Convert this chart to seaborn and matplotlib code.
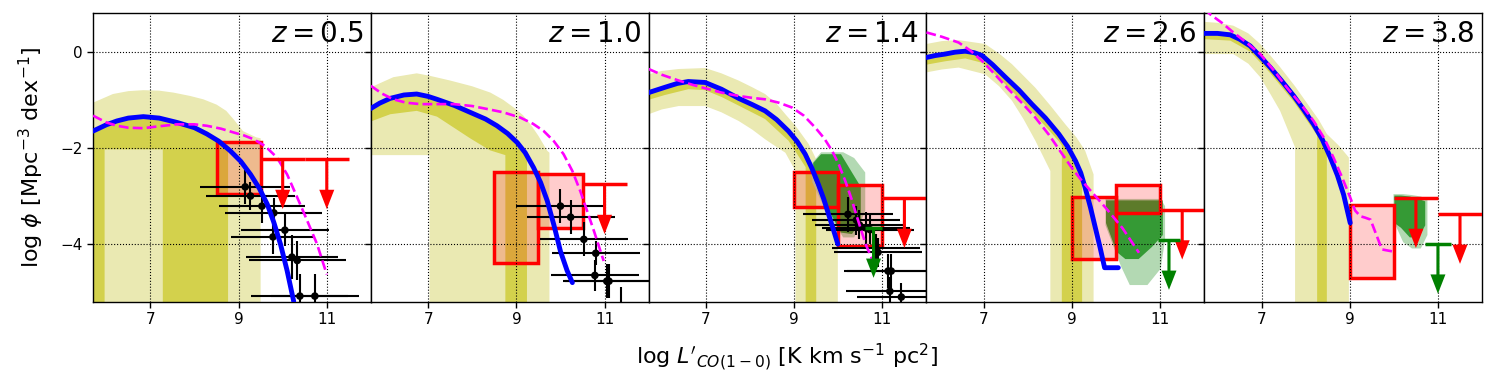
import numpy as np
import matplotlib
matplotlib.use("Agg")
import matplotlib.pyplot as plt
import seaborn as sns

# ---------------- data ----------------
REDSHIFTS = ["0.5", "1.0", "1.4", "2.6", "3.8"]
FLOOR = -9.0  # no lower bound (band extends below the axis)

# model (blue) luminosity functions
BLUE_X = [
    [5.7, 6.0, 6.24, 6.5, 6.84, 7.2, 7.6, 8.0, 8.28, 8.55, 8.81, 9.05, 9.27, 9.47,
     9.65, 9.8, 9.95, 10.1, 10.25],
    [5.7, 5.9, 6.14, 6.45, 6.74, 7.0, 7.2, 7.6, 7.95, 8.3, 8.56, 8.8, 9.02, 9.2,
     9.39, 9.55, 9.7, 9.85, 10.0, 10.15, 10.27],
    [5.7, 6.07, 6.35, 6.6, 6.98, 7.35, 7.74, 8.05, 8.34, 8.6, 8.87, 9.07, 9.25, 9.4,
     9.55, 9.67, 9.78, 9.89, 9.99],
    [5.7, 5.9, 6.12, 6.35, 6.58, 6.78, 6.96, 7.2, 7.49, 7.8, 8.09, 8.4, 8.7, 8.9,
     9.08, 9.2, 9.3, 9.42, 9.53, 9.64, 9.74, 10.05],
    [5.7, 6.0, 6.29, 6.5, 6.74, 6.97, 7.2, 7.45, 7.73, 7.95, 8.18, 8.38, 8.56, 8.72,
     8.86, 9.01],
]
BLUE_Y = [
    [-1.65, -1.52, -1.44, -1.38, -1.35, -1.38, -1.47, -1.58, -1.71, -1.86, -2.06,
     -2.28, -2.55, -2.84, -3.17, -3.55, -4.0, -4.55, -5.19],
    [-1.18, -1.07, -0.97, -0.9, -0.88, -0.93, -0.99, -1.12, -1.26, -1.4, -1.54,
     -1.7, -1.89, -2.1, -2.41, -2.72, -3.1, -3.6, -4.15, -4.55, -4.8],
    [-0.85, -0.74, -0.66, -0.62, -0.64, -0.78, -0.97, -1.1, -1.23, -1.41, -1.65,
     -1.87, -2.13, -2.42, -2.76, -3.06, -3.38, -3.7, -4.0],
    [-0.12, -0.08, -0.05, -0.01, 0.01, -0.02, -0.08, -0.27, -0.53, -0.8, -1.09,
     -1.38, -1.71, -1.97, -2.27, -2.52, -2.83, -3.24, -3.66, -4.08, -4.49, -4.49],
    [0.38, 0.38, 0.35, 0.26, 0.12, -0.1, -0.33, -0.6, -0.92, -1.2, -1.51, -1.83,
     -2.2, -2.57, -2.97, -3.56],
]

# comparison model (magenta dashed)
MAG_X = [
    [5.7, 6.0, 6.24, 6.5, 6.84, 7.2, 7.6, 8.0, 8.28, 8.6, 8.89, 9.12, 9.34, 9.6,
     9.87, 10.1, 10.33, 10.55, 10.78, 11.0],
    [5.7, 5.95, 6.21, 6.5, 6.82, 7.2, 7.58, 8.0, 8.33, 8.7, 9.09, 9.38, 9.62, 9.85,
     10.07, 10.27, 10.45, 10.6, 10.76, 10.98],
    [5.7, 6.0, 6.38, 6.7, 6.98, 7.35, 7.74, 8.05, 8.34, 8.65, 8.95, 9.22, 9.48, 9.68,
     9.86, 10.02, 10.16, 10.3, 10.43, 10.62, 10.77],
    [5.7, 6.05, 6.43, 6.7, 6.96, 7.25, 7.56, 7.87, 8.17, 8.48, 8.78, 9.0, 9.23, 9.5,
     9.76, 10.14, 10.52],
    [5.7, 5.83, 6.1, 6.36, 6.67, 6.97, 7.27, 7.57, 7.88, 8.18, 8.42, 8.63, 8.82, 9.01,
     9.12, 9.24, 9.35, 9.47, 9.6, 9.73, 9.96],
]
MAG_Y = [
    [-1.33, -1.47, -1.54, -1.58, -1.59, -1.55, -1.51, -1.51, -1.54, -1.6, -1.68,
     -1.74, -1.82, -1.96, -2.2, -2.55, -3.03, -3.5, -4.0, -4.63],
    [-0.71, -0.87, -0.99, -1.06, -1.09, -1.09, -1.09, -1.13, -1.19, -1.26, -1.37,
     -1.5, -1.65, -1.86, -2.13, -2.48, -2.9, -3.3, -3.73, -4.35],
    [-0.36, -0.48, -0.6, -0.69, -0.76, -0.85, -0.92, -0.96, -0.99, -1.06, -1.16,
     -1.33, -1.58, -1.8, -2.06, -2.36, -2.69, -3.06, -3.45, -4.0, -4.32],
    [0.4, 0.31, 0.19, 0.02, -0.19, -0.47, -0.78, -1.07, -1.37, -1.73, -2.13, -2.42,
     -2.69, -2.97, -3.24, -3.66, -4.18],
    [0.9, 0.78, 0.6, 0.4, 0.18, -0.05, -0.38, -0.74, -1.08, -1.44, -1.8, -2.2, -2.6,
     -3.03, -3.3, -3.42, -3.45, -3.49, -3.8, -4.11, -4.15],
]

# outer (light) uncertainty band
OUTER_X = [
    [5.7, 6.15, 6.5, 6.84, 7.2, 7.52, 7.9, 8.2, 8.5, 8.72, 8.9, 9.1, 9.4, 9.5],
    [5.7, 6.21, 6.74, 7.03, 7.03, 7.5, 8.0, 8.41, 8.7, 8.94, 9.15, 9.32, 9.5, 9.7, 9.75],
    [5.7, 6.0, 6.38, 6.98, 7.35, 7.74, 8.05, 8.34, 8.6, 8.8, 9.03, 9.03, 9.33, 9.63, 9.99],
    [5.7, 6.05, 6.43, 7.03, 7.35, 7.64, 7.9, 8.17, 8.51, 8.51, 8.85, 9.1, 9.3, 9.49],
    [5.7, 6.0, 6.36, 6.7, 6.97, 7.2, 7.42, 7.76, 7.76, 8.1, 8.3, 8.48, 8.75, 8.98],
]
OUTER_HI = [
    [-1.06, -0.88, -0.82, -0.8, -0.81, -0.85, -0.92, -0.99, -1.1, -1.23, -1.42,
     -1.65, -1.78, -1.8],
    [-0.74, -0.53, -0.45, -0.5, -0.5, -0.6, -0.72, -0.85, -1.0, -1.16, -1.32, -1.51,
     -1.75, -2.06, -2.1],
    [-0.47, -0.4, -0.36, -0.34, -0.45, -0.6, -0.74, -0.88, -1.08, -1.3, -1.54, -1.54,
     -1.92, -2.48, -2.95],
    [0.16, 0.22, 0.24, 0.16, -0.04, -0.26, -0.5, -0.75, -1.12, -1.12, -1.51, -1.78,
     -2.06, -2.55],
    [0.62, 0.6, 0.54, 0.38, 0.16, -0.08, -0.32, -0.72, -0.72, -1.16, -1.42, -1.71,
     -1.95, -2.2],
]
OUTER_LO = [
    [FLOOR] * 14,
    [-2.15, -2.15, -2.15, -2.15] + [FLOOR] * 11,
    [-1.3, -1.2, -1.13, -1.13, -1.26, -1.44, -1.62, -1.82, -1.98, -2.1, -2.48] + [FLOOR] * 4,
    [-0.43, -0.37, -0.33, -0.47, -0.72, -1.02, -1.4, -1.85, -2.48] + [FLOOR] * 5,
    [-0.05, -0.05, -0.05, -0.25, -0.53, -0.88, -1.23, -1.99] + [FLOOR] * 6,
]

# inner (dark) uncertainty band
INNER_X = [
    [5.7, 5.95, 5.95, 6.5, 7.0, 7.27, 7.27, 7.8, 8.3, 8.75],
    [5.7, 6.14, 6.74, 7.2, 7.95, 8.4, 8.75, 8.75, 9.02, 9.24],
    [5.7, 6.07, 6.6, 6.98, 7.35, 7.74, 8.34, 8.87, 9.26, 9.26, 9.5],
    [5.7, 6.12, 6.58, 6.96, 7.2, 7.49, 8.09, 8.7, 8.77, 8.77, 9.08, 9.23],
    [5.7, 6.29, 6.74, 7.2, 7.73, 8.18, 8.26, 8.26, 8.48],
]
INNER_HI = [
    [-1.62, -1.52, -1.52, -1.4, -1.36, -1.4, -1.4, -1.52, -1.72, -2.02],
    [-1.18, -0.97, -0.88, -0.99, -1.26, -1.45, -1.66, -1.66, -1.89, -2.22],
    [-0.83, -0.72, -0.6, -0.62, -0.76, -0.95, -1.21, -1.63, -2.15, -2.15, -2.6],
    [-0.07, 0.0, 0.06, -0.03, -0.22, -0.48, -1.04, -1.66, -1.74, -1.74, -2.22, -2.55],
    [0.43, 0.4, 0.17, -0.28, -0.87, -1.46, -1.57, -1.57, -2.0],
]
INNER_LO = [
    [FLOOR, FLOOR, -2.02, -2.02, -2.02, -2.02, FLOOR, FLOOR, FLOOR, FLOOR],
    [-1.45, -1.3, -1.23, -1.35, -1.8, -2.05, -2.15, FLOOR, FLOOR, FLOOR],
    [-1.0, -0.9, -0.78, -0.8, -0.94, -1.12, -1.4, -1.85, -2.4, FLOOR, FLOOR],
    [-0.27, -0.2, -0.14, -0.23, -0.42, -0.68, -1.24, -1.86, -1.95, FLOOR, FLOOR, FLOOR],
    [0.26, 0.23, 0.0, -0.45, -1.04, -1.63, -1.74, FLOOR, FLOOR],
]

# observational constraints (green regions): light and dark
GREEN_LIGHT_X = [[], [], [9.4, 9.6, 10.1, 10.35, 10.6],
                 [9.75, 10.1, 10.3, 10.7, 11.0, 11.1],
                 [9.98, 10.2, 10.4, 10.6, 10.75]]
GREEN_LIGHT_HI = [[], [], [-2.3, -2.08, -2.08, -2.2, -2.5],
                  [-3.05, -3.05, -3.05, -3.05, -3.05, -3.2],
                  [-2.95, -2.95, -2.97, -3.0, -3.05]]
GREEN_LIGHT_LO = [[], [], [-2.7, -3.1, -3.85, -3.85, -3.3],
                  [-3.6, -4.45, -4.84, -4.84, -4.5, -3.9],
                  [-3.5, -3.95, -4.08, -4.08, -3.8]]
GREEN_DARK_X = [[], [], [9.42, 9.6, 10.05, 10.3, 10.5],
                [9.76, 10.0, 10.2, 10.5, 10.8, 11.05],
                [10.0, 10.15, 10.35, 10.55, 10.7]]
GREEN_DARK_HI = [[], [], [-2.3, -2.12, -2.12, -2.5, -2.8],
                 [-3.08, -3.08, -3.08, -3.08, -3.08, -3.08],
                 [-2.98, -2.98, -3.0, -3.05, -3.1]]
GREEN_DARK_LO = [[], [], [-2.6, -3.0, -3.75, -3.78, -3.5],
                 [-3.55, -4.15, -4.3, -4.3, -4.05, -3.8],
                 [-3.55, -3.65, -3.85, -3.85, -3.6]]

# red boxes (bin edges and phi range)
BOX_X0 = [[8.5], [8.5, 9.5], [9.0, 10.0], [9.0, 10.0], [9.0]]
BOX_X1 = [[9.5], [9.5, 10.5], [10.0, 11.0], [10.0, 11.0], [10.0]]
BOX_YLO = [[-2.96], [-4.4, -3.67], [-3.23, -4.04], [-4.3, -3.36], [-4.7]]
BOX_YHI = [[-1.87], [-2.51, -2.55], [-2.51, -2.77], [-3.03, -2.77], [-3.19]]

# red upper limits
RUL_X = [[10.0, 11.0], [11.0], [11.5], [11.5], [10.5, 11.5]]
RUL_Y = [[-2.24, -2.24], [-2.76], [-3.05], [-3.29], [-3.05, -3.38]]
RUL_XERR = 0.5

# green upper limits
GUL_X = [[], [], [10.8], [11.2], [11.0]]
GUL_Y = [[], [], [-3.67], [-3.92], [-4.0]]
GUL_XERR = [[], [], [0.2], [0.26], [0.3]]

# black data points
PTS_X = [
    [9.15, 9.27, 9.53, 9.8, 10.05, 9.78, 10.21, 10.33, 10.39, 10.73],
    [10.0, 10.23, 10.53, 10.8, 10.78, 11.05, 11.1, 11.38],
    [10.22, 10.41, 10.48, 10.62, 10.72, 10.85, 10.9, 11.13, 11.2, 11.17, 11.43],
    [], [],
]
PTS_Y = [
    [-2.81, -3.0, -3.21, -3.35, -3.71, -3.85, -4.27, -4.34, -5.08, -5.08],
    [-3.21, -3.44, -3.9, -4.19, -4.65, -4.77, -4.77, -5.35],
    [-3.38, -3.5, -3.6, -3.66, -3.7, -4.08, -4.17, -4.56, -4.56, -4.98, -5.1],
    [], [],
]
PTS_XERR = [
    [1.02, 1.0, 0.97, 1.1, 1.0, 0.95, 1.05, 1.1, 1.1, 1.0],
    [1.0, 1.0, 1.0, 1.0, 1.0, 1.0, 1.0, 1.0],
    [1.02, 1.0, 1.0, 1.0, 1.0, 1.0, 1.0, 1.0, 1.0, 1.0, 1.0],
    [], [],
]
PTS_YERR = [
    [0.36, 0.3, 0.35, 0.3, 0.33, 0.35, 0.45, 0.4, 0.45, 0.45],
    [0.35, 0.35, 0.35, 0.25, 0.33, 0.36, 0.36, 0.45],
    [0.36, 0.3, 0.3, 0.33, 0.3, 0.3, 0.3, 0.35, 0.35, 0.3, 0.3],
    [], [],
]

XTICKS = [7, 9, 11]
YTICKS = [0, -2, -4]

# ---------------- style ----------------
sns.set_style("ticks")
plt.rcParams["font.family"] = ["DejaVu Sans"]
plt.rcParams["mathtext.fontset"] = "dejavusans"
for key in ("text.color", "axes.labelcolor", "xtick.color", "ytick.color",
            "axes.edgecolor"):
    plt.rcParams[key] = "black"

OUTER_C = (0.918, 0.914, 0.698)
INNER_C = (0.827, 0.820, 0.298)
GREEN_L = (0.70, 0.85, 0.70)
GREEN_D = (0.0, 0.5, 0.0)

fig = plt.figure(figsize=(14.94, 3.88), dpi=100)
axes = fig.subplots(1, 5, sharey=True)
fig.subplots_adjust(left=0.0623, right=0.992, top=0.966, bottom=0.222, wspace=0)

for i, ax in enumerate(axes):
    ax.fill_between(OUTER_X[i], OUTER_LO[i], OUTER_HI[i], color=OUTER_C, lw=0, zorder=1)
    ax.fill_between(INNER_X[i], INNER_LO[i], INNER_HI[i], color=INNER_C, lw=0, zorder=1.1)
    if GREEN_LIGHT_X[i]:
        ax.fill_between(GREEN_LIGHT_X[i], GREEN_LIGHT_LO[i], GREEN_LIGHT_HI[i],
                        color=GREEN_L, lw=0, zorder=1.2)
        ax.fill_between(GREEN_DARK_X[i], GREEN_DARK_LO[i], GREEN_DARK_HI[i],
                        color=GREEN_D, alpha=0.7, lw=0, zorder=1.3)
    for x0, x1, ylo, yhi in zip(BOX_X0[i], BOX_X1[i], BOX_YLO[i], BOX_YHI[i]):
        ax.fill_between([x0, x1], [ylo, ylo], [yhi, yhi], color="red", alpha=0.2,
                        lw=0, zorder=1.5)
        ax.add_patch(plt.Rectangle((x0, ylo), x1 - x0, yhi - ylo, fill=False,
                                   ec="red", lw=2.5, zorder=1.6))
    if PTS_X[i]:
        ax.errorbar(PTS_X[i], PTS_Y[i], xerr=PTS_XERR[i], yerr=PTS_YERR[i],
                    fmt="none", ecolor="k", elinewidth=1.5, capsize=0, zorder=2)
        sns.scatterplot(x=PTS_X[i], y=PTS_Y[i], ax=ax, color="k", s=30,
                        edgecolor="none", zorder=2.1)
    sns.lineplot(x=BLUE_X[i], y=BLUE_Y[i], ax=ax, color="blue", lw=3.5,
                 sort=False, estimator=None, zorder=3)
    sns.lineplot(x=MAG_X[i], y=MAG_Y[i], ax=ax, color="magenta", lw=1.9,
                 linestyle="--", sort=False, estimator=None, zorder=3.5)
    for xs, ys, xe, col in ((RUL_X[i], RUL_Y[i], [RUL_XERR] * len(RUL_X[i]), "red"),
                            (GUL_X[i], GUL_Y[i], GUL_XERR[i], "green")):
        for x, y, e in zip(xs, ys, xe):
            ax.plot([x - e, x + e], [y, y], color=col, lw=2.5, zorder=4,
                    solid_capstyle="butt")
            ax.arrow(x, y, 0, -1.03, width=0.07, head_width=0.34, head_length=0.4,
                     length_includes_head=True, color=col, lw=0, zorder=4)
    ax.text(0.972, 0.975, r"$z = %s$" % REDSHIFTS[i], transform=ax.transAxes,
            ha="right", va="top", fontsize=20)
    ax.set_xlim(5.7, 12.0)
    ax.set_ylim(-5.2, 0.8)
    ax.set_xticks(XTICKS)
    ax.set_yticks(YTICKS)
    ax.set_axisbelow(False)
    ax.grid(True, ls=":", color="k", lw=0.8)
    ax.tick_params(direction="out", length=4, width=1, labelsize=11, color="k",
                   labelcolor="k")
    for s in ax.spines.values():
        s.set_color("k")
        s.set_linewidth(1.0)
        s.set_visible(True)

fig.text(0.527, 0.08, r"log $L'_{CO(1-0)}$ [K km s$^{-1}$ pc$^2$]", ha="center",
         va="center", fontsize=16)
fig.text(0.021, 0.595, r"log $\phi$ [Mpc$^{-3}$ dex$^{-1}$]", ha="center",
         va="center", rotation=90, fontsize=16)

fig.savefig("out.png", dpi=100)
